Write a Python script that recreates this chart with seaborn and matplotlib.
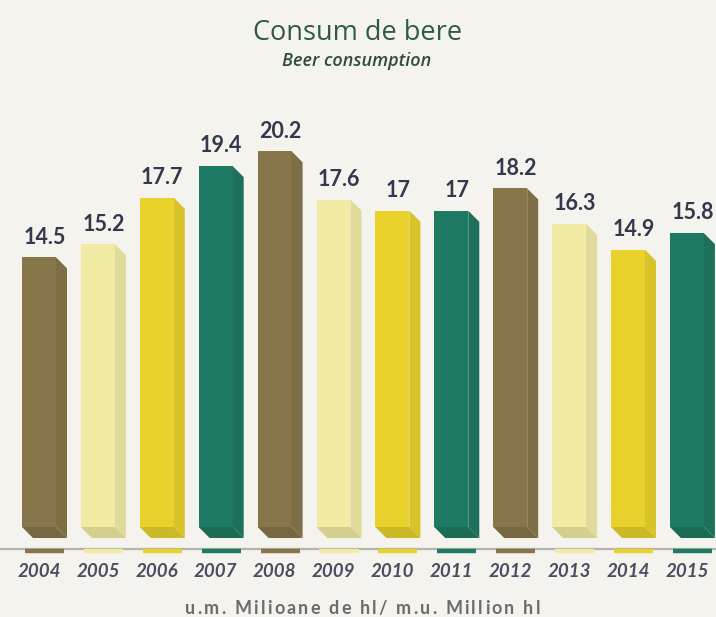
import matplotlib
matplotlib.use("Agg")
import matplotlib.pyplot as plt
from matplotlib.patches import Polygon
from matplotlib.colors import to_rgb
import seaborn as sns
import pandas as pd

years = ["2004", "2005", "2006", "2007", "2008", "2009", "2010", "2011", "2012", "2013", "2014", "2015"]
values = [14.5, 15.2, 17.7, 19.4, 20.2, 17.6, 17.0, 17.0, 18.2, 16.3, 14.9, 15.8]
palette_cycle = ["#87764a", "#f1eba3", "#e8d22b", "#1f7a63"]
title = "Consum de bere"
subtitle = "Beer consumption"
unit_note = "u.m. Milioane de hl/ m.u. Million hl"

bg = "#f5f3ee"
df = pd.DataFrame({"year": years, "value": values})
colors = [palette_cycle[i % 4] for i in range(len(years))]

sns.set_theme(style="white")
plt.rcParams["font.family"] = ["Lato", "DejaVu Sans"]

W, H = 716, 617
fig = plt.figure(figsize=(W / 100, H / 100), dpi=100, facecolor=bg)
ax_bottom_px, ax_top_px = 549, 100
ax = fig.add_axes([0, (H - ax_bottom_px) / H, 1, (ax_bottom_px - ax_top_px) / H])
ax.set_facecolor(bg)

sns.barplot(data=df, x="year", y="value", hue="year", palette=colors,
            legend=False, width=0.577, saturation=1, ax=ax, linewidth=0)

px_per_x = 58.9
px_per_y = 18.6
ax.set_xlim(-39 / px_per_x, (W - 39) / px_per_x)
ax.set_ylim(-(ax_bottom_px - 527) / px_per_y, (527 - ax_top_px) / px_per_y)

dx = 11 / px_per_x
dy = 11 / px_per_y

def shade(c, f):
    r, g, b = to_rgb(c)
    return (r * f, g * f, b * f)

ybase = ax.get_ylim()[0]
for patch, c, v in zip(ax.patches, colors, values):
    x0 = patch.get_x()
    w = patch.get_width()
    x1 = x0 + w
    h = patch.get_height()
    side = Polygon([(x1, h), (x1 + dx, h - dy), (x1 + dx, -dy), (x1, 0)],
                   closed=True, facecolor=shade(c, 0.93), edgecolor="none", zorder=2)
    bottom = Polygon([(x0, 0), (x1, 0), (x1 + dx, -dy), (x0 + dx, -dy)],
                     closed=True, facecolor=shade(c, 0.88), edgecolor="none", zorder=2)
    ax.add_patch(side)
    ax.add_patch(bottom)
    cx = x0 + (w + dx) / 2
    ax.annotate(f"{v:g}", (cx, h), xytext=(0, 7), textcoords="offset points",
                ha="center", va="bottom", fontsize=15.5, fontweight="bold",
                color="#33384d")
    ax.plot([x0 + 0.05, x1 + dx - 0.05], [ybase - 1.5 / px_per_y] * 2,
            color=c, lw=3.2, solid_capstyle="butt", clip_on=False, zorder=4)

for s in ["top", "right", "left"]:
    ax.spines[s].set_visible(False)
ax.spines["bottom"].set_color("#b4b3ad")
ax.spines["bottom"].set_linewidth(1.6)
ax.set_yticks([])
ax.set_xlabel("")
ax.set_ylabel("")
ax.set_xticks(range(len(years)))
ax.set_xticklabels(years, fontsize=13.5, fontstyle="italic", fontweight="bold",
                   color="#4a4e63")
ax.tick_params(axis="x", length=0, pad=10)

fig.text(358 / W, 1 - 33 / H, title, ha="center", va="center", fontsize=19.5,
         color="#2e5b42", family=["Open Sans", "DejaVu Sans"])
fig.text(357 / W, 1 - 61 / H, subtitle, ha="center", va="center", fontsize=13,
         color="#2f4d3c", fontstyle="italic", fontweight="semibold",
         family=["Open Sans", "DejaVu Sans"])

# unit note with letter spacing, spanning about 185..540 px
renderer = fig.canvas.get_renderer()
note_kw = dict(fontsize=13, color="#6c6c6c", fontweight="bold", va="baseline", ha="left")

def text_width(s):
    t = fig.text(0, 0, s + "x", **note_kw)
    wx = t.get_window_extent(renderer).width
    t.remove()
    t2 = fig.text(0, 0, "x", **note_kw)
    wx2 = t2.get_window_extent(renderer).width
    t2.remove()
    return wx - wx2

natural = text_width(unit_note)
left_px, right_px = 185, 540
n = len(unit_note)
track = ((right_px - left_px) - natural) / (n - 1)
for i, ch in enumerate(unit_note):
    xpos = left_px + text_width(unit_note[:i]) + i * track
    fig.text(xpos / W, 1 - 614 / H, ch, **note_kw)

fig.savefig("out.png", dpi=100, facecolor=bg)
